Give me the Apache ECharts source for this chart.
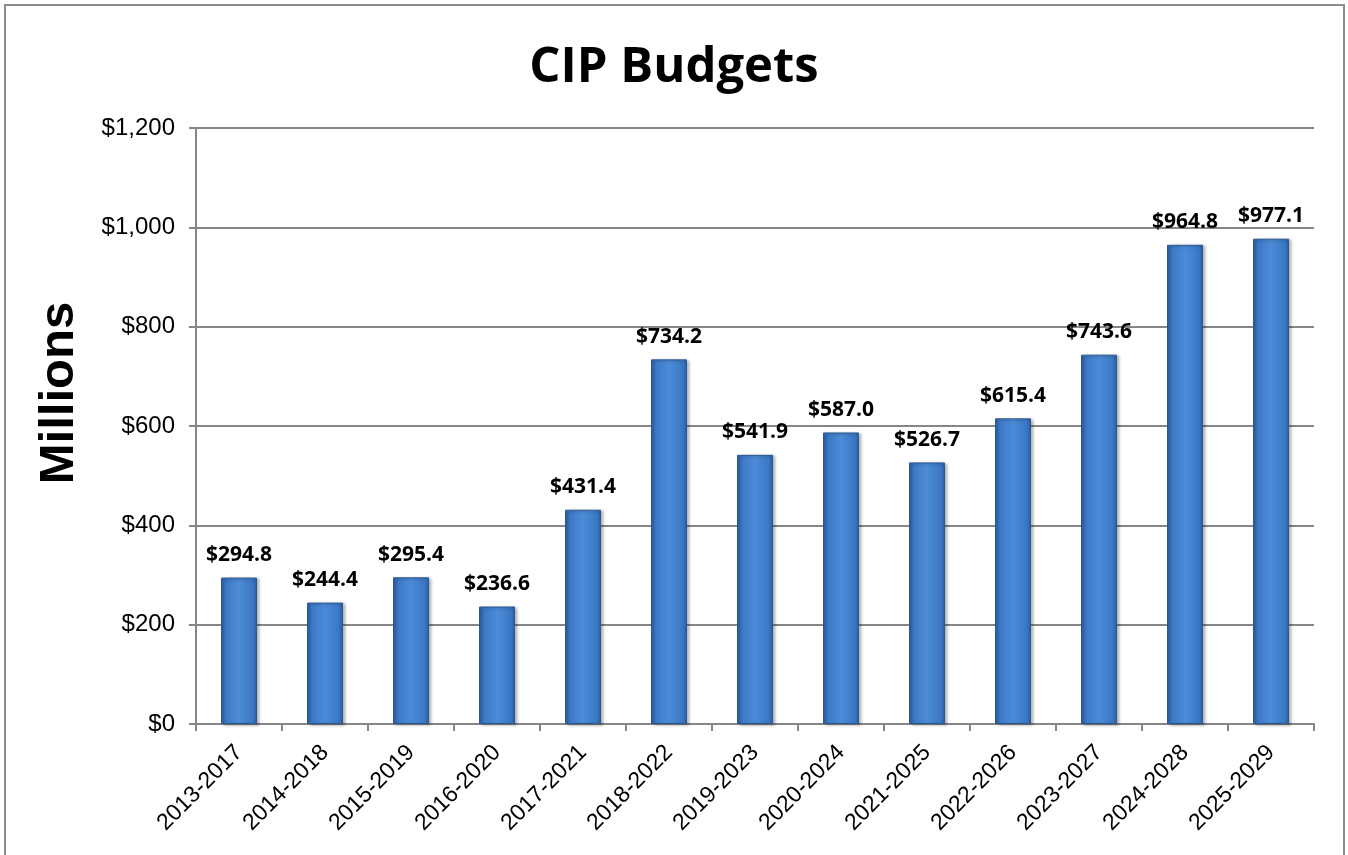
<!DOCTYPE html>
<html>
<head>
<meta charset="utf-8">
<script src="https://cdn.jsdelivr.net/npm/echarts@6/dist/echarts.min.js"></script>
<style>
html,body{margin:0;padding:0;background:#fff;}
#chart{width:1348px;height:855px;}
</style>
</head>
<body>
<div id="chart"></div>
<script>
const categories = ['2013-2017','2014-2018','2015-2019','2016-2020','2017-2021','2018-2022','2019-2023','2020-2024','2021-2025','2022-2026','2023-2027','2024-2028','2025-2029'];
const budgets = [294.8, 244.4, 295.4, 236.6, 431.4, 734.2, 541.9, 587.0, 526.7, 615.4, 743.6, 964.8, 977.1];
const yTicks = {min: 0, max: 1200, interval: 200};
const titleText = 'CIP Budgets';
const yAxisTitle = 'Millions';

const chart = echarts.init(document.getElementById('chart'));
const barGradient = new echarts.graphic.LinearGradient(0, 0, 1, 0, [
  {offset: 0, color: '#2c5c9f'},
  {offset: 0.12, color: '#3b78c4'},
  {offset: 0.5, color: '#4c8cd8'},
  {offset: 0.88, color: '#3b78c4'},
  {offset: 1, color: '#2c5c9f'}
]);
chart.setOption({
  animation: false,
  backgroundColor: '#fff',
  title: {
    text: titleText,
    left: 'center',
    top: 39,
    textStyle: {fontFamily: 'Open Sans', fontWeight: 'bold', fontSize: 49, color: '#000'}
  },
  graphic: [
    {type: 'rect', shape: {x: 5, y: 5, width: 1339, height: 870}, style: {fill: 'none', stroke: '#8c8c8c', lineWidth: 2}, z: 100},
    {type: 'text', x: 59, y: 393, rotation: Math.PI / 2,
     style: {text: yAxisTitle, fontFamily: 'Liberation Sans', fontWeight: 'bold', fontSize: 49, fill: '#000', align: 'center', verticalAlign: 'middle'}}
  ],
  grid: {left: 196, right: 34, top: 128, bottom: 131},
  xAxis: {
    type: 'category',
    data: categories,
    axisLine: {lineStyle: {color: '#868686', width: 2}},
    axisTick: {show: true, length: 7, lineStyle: {color: '#868686', width: 2}, alignWithLabel: false},
    axisLabel: {rotate: 45, margin: 25, fontFamily: 'Liberation Sans', fontSize: 23, color: '#000', interval: 0}
  },
  yAxis: {
    type: 'value',
    min: yTicks.min, max: yTicks.max, interval: yTicks.interval,
    axisLine: {show: true, lineStyle: {color: '#868686', width: 2}},
    axisTick: {show: true, length: 7, lineStyle: {color: '#868686', width: 2}},
    splitLine: {lineStyle: {color: '#868686', width: 2}},
    axisLabel: {margin: 21, fontFamily: 'Liberation Sans', fontSize: 24, color: '#000',
      formatter: v => '$' + v.toLocaleString('en-US')}
  },
  series: [{
    type: 'bar',
    data: budgets,
    barWidth: 36,
    itemStyle: {color: barGradient, borderColor: '#2a5795', borderWidth: 1,
      shadowColor: 'rgba(0,0,0,0.3)', shadowBlur: 3, shadowOffsetX: 2, shadowOffsetY: 1},
    label: {show: true, position: 'top', distance: 12,
      fontFamily: 'Open Sans', fontWeight: 'bold', fontSize: 21, color: '#000',
      formatter: p => '$' + p.value.toFixed(1)}
  }]
});
</script>
</body>
</html>
